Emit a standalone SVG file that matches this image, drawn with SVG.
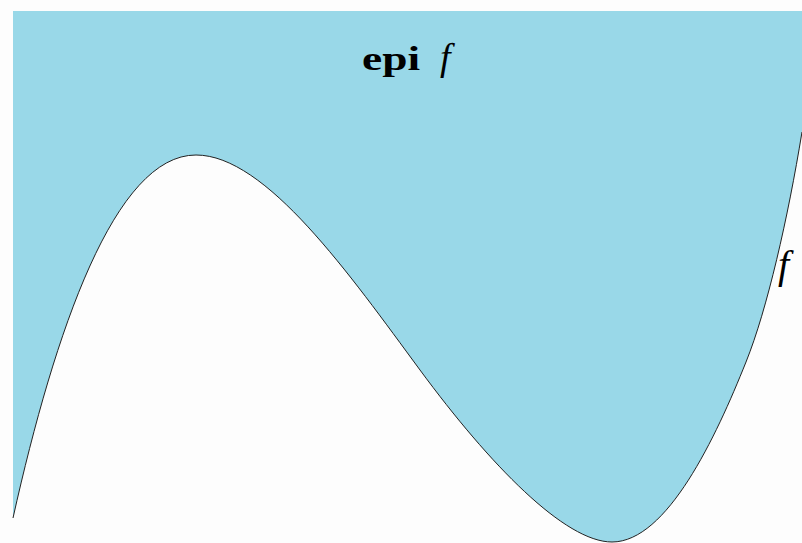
<svg xmlns="http://www.w3.org/2000/svg" width="802" height="543" viewBox="0 0 802 543">
<style>
.lbl{font-family:"Liberation Serif","Times New Roman",serif;fill:#000}
.it{font-style:italic}
.fn{fill:none;stroke:#222;stroke-width:1}
</style>
<rect x="0" y="0" width="802" height="543" fill="#fdfdfd"/>
<g id="epigraph">
<path d="M13,11 L802,11 L802,132 C788,218 767,310 746,362 C716,437 667,542 612,542 C565,542 490,465 420,370 C350,275 266,155 196,155 C115,155 55,330 13,518 Z" fill="#99d8e8"/>
</g>
<g id="graph">
<path class="fn" d="M13,518 C55,330 115,155 196,155 C266,155 350,275 420,370 C490,465 565,542 612,542 C667,542 716,437 746,362 C767,310 788,218 802,132"/>
</g>
<g id="labels">
<text class="lbl" x="362" y="70" font-size="34" font-weight="bold" textLength="58" lengthAdjust="spacingAndGlyphs">epi</text>
<text class="lbl it" x="440" y="70" font-size="38">f</text>
<text class="lbl it" x="778" y="278" font-size="40">f</text>
</g>
</svg>
